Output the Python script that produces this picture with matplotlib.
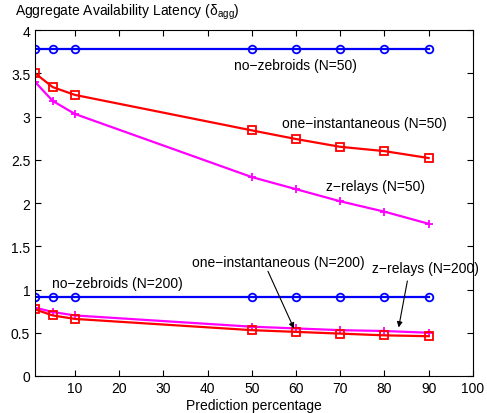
import numpy as np
import matplotlib.pyplot as plt

plt.rcParams['font.family'] = ['Liberation Sans', 'DejaVu Sans']
plt.rcParams['mathtext.fontset'] = 'custom'
plt.rcParams['mathtext.rm'] = 'Liberation Sans'
plt.rcParams['mathtext.it'] = 'Liberation Sans:italic'

# データ
pred_pct = [1, 5, 10, 50, 60, 70, 80, 90]
nozeb_50 = [3.78] * 8
oneinst_50 = [3.50, 3.34, 3.25, 2.84, 2.74, 2.65, 2.60, 2.52]
zrelay_50 = [3.40, 3.18, 3.03, 2.30, 2.16, 2.02, 1.90, 1.76]
nozeb_200 = [0.91] * 8
oneinst_200 = [0.77, 0.70, 0.66, 0.53, 0.51, 0.49, 0.47, 0.46]
zrelay_200 = [0.79, 0.74, 0.70, 0.57, 0.55, 0.53, 0.52, 0.50]

fig = plt.figure(figsize=(4.87, 4.14), dpi=100)
ax = fig.add_axes([0.072, 0.0894, 0.899, 0.8356])

lw = 1.6
ax.plot(pred_pct, nozeb_50, color='blue', marker='o', mfc='none', ms=5.5, mew=1.3, lw=lw)
ax.plot(pred_pct, oneinst_50, color='red', marker='s', mfc='none', ms=5.5, mew=1.3, lw=lw)
ax.plot(pred_pct, zrelay_50, color='magenta', marker='+', ms=6, mew=1.3, lw=lw)
ax.plot(pred_pct, nozeb_200, color='blue', marker='o', mfc='none', ms=5.5, mew=1.3, lw=lw)
ax.plot(pred_pct, zrelay_200, color='magenta', marker='+', ms=6, mew=1.3, lw=lw)
ax.plot(pred_pct, oneinst_200, color='red', marker='s', mfc='none', ms=5.5, mew=1.3, lw=lw)

ax.set_xlim(1, 100)
ax.set_ylim(0, 4)
ax.set_xticks(range(10, 101, 10))
ax.set_yticks(np.arange(0, 4.01, 0.5))
ax.set_yticklabels(['0', '0.5', '1', '1.5', '2', '2.5', '3', '3.5', '4'])
ax.tick_params(direction='in', top=True, right=True, labelsize=10, length=4)
ax.set_xlabel('Prediction percentage', fontsize=10, labelpad=2)

fs = 10
ax.text(59.8, 3.60, 'no\u2212zebroids (N=50)', ha='center', va='center', fontsize=fs)
ax.text(75.4, 2.92, 'one\u2212instantaneous (N=50)', ha='center', va='center', fontsize=fs)
ax.text(78.0, 2.20, 'z\u2212relays (N=50)', ha='center', va='center', fontsize=fs)
ax.text(19.5, 1.08, 'no\u2212zebroids (N=200)', ha='center', va='center', fontsize=fs)
ax.text(55.9, 1.32, 'one\u2212instantaneous (N=200)', ha='center', va='center', fontsize=fs)
ax.text(89.3, 1.25, 'z\u2212relays (N=200)', ha='center', va='center', fontsize=fs)
ax.annotate('', xy=(59.8, 0.52), xytext=(53.4, 1.24),
            arrowprops=dict(arrowstyle='-|>', color='black', lw=0.8, mutation_scale=8))
ax.annotate('', xy=(83.1, 0.53), xytext=(85.3, 1.13),
            arrowprops=dict(arrowstyle='-|>', color='black', lw=0.8, mutation_scale=8))

fig.text(0.03, 0.97, 'Aggregate Availability Latency (\u03b4$_{\\rm agg}$)',
         ha='left', va='center', fontsize=10)

plt.savefig('out.png', dpi=100)
plt.close()
